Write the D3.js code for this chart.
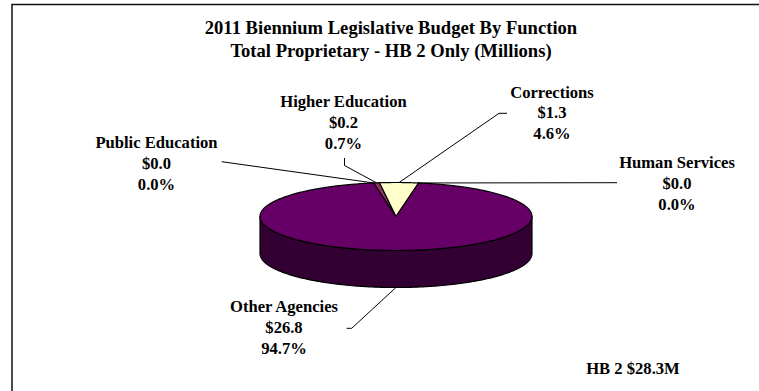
<!DOCTYPE html>
<html>
<head>
<meta charset="utf-8">
<script src="https://cdn.jsdelivr.net/npm/d3@7/dist/d3.min.js"></script>
<style>
  html, body { margin: 0; padding: 0; background: #fff; }
  svg { display: block; }
  text { font-family: "Liberation Serif", "Times New Roman", serif; font-weight: bold; fill: #000; }
</style>
</head>
<body>
<svg id="chart" width="759" height="391"></svg>
<script>
// Budget by function, HB 2 proprietary funds (millions of dollars)
const categories = ["Public Education", "Higher Education", "Corrections", "Human Services", "Other Agencies"];
const values = [0.0, 0.2, 1.3, 0.0, 26.8];
const titleLines = ["2011 Biennium Legislative Budget By Function", "Total Proprietary - HB 2 Only (Millions)"];
const totalLabel = "HB 2";

// Slice colours (top faces) and the darker side wall
const topColor = d3.scaleOrdinal(categories, ["#9999ff", "#993366", "#ffffcc", "#ccffff", "#660066"]);
const sideColor = d3.scaleOrdinal(categories, ["#4c4c80", "#4c1933", "#808066", "#668080", "#330033"]);

// Label placement: centre x, first baseline, and the outer leader points
const labelLayout = {
  "Public Education": { x: 156.5, y: 147.7, leader: [[221.7, 161.7]] },
  "Higher Education": { x: 343.5, y: 106.7, leader: [[344.5, 158], [344.5, 165.5]] },
  "Corrections":      { x: 552,   y: 97.5,  leader: [[507, 113.3], [499, 113.3]] },
  "Human Services":   { x: 677,   y: 168,   leader: [[617, 182.7]] },
  "Other Agencies":   { x: 284,   y: 312,   leader: [[346.7, 328.3], [351.7, 328.3]] }
};

const svg = d3.select("#chart");
const W = 759, H = 391;

// Frame (left and top edges visible)
svg.append("rect")
  .attr("x", 12).attr("y", 4.5)
  .attr("width", W + 20).attr("height", H + 20)
  .attr("fill", "none").attr("stroke", "#111").attr("stroke-width", 1.5);

// Title
svg.append("g").selectAll("text")
  .data(titleLines)
  .join("text")
  .attr("x", 391)
  .attr("y", (d, i) => 33.5 + i * 23)
  .attr("text-anchor", "middle")
  .attr("font-size", 18.6)
  .text(d => d);

// 3-D pie geometry
const cx = 396, cy = 216.5, rx = 136, ry = 34, depth = 37;
const total = d3.sum(values);
const start = -9.5 * Math.PI / 180;
const pie = d3.pie().sort(null).value(d => d.value)
  .startAngle(start).endAngle(start + 2 * Math.PI);
const arcs = pie(categories.map((c, i) => ({ name: c, value: values[i] })));

const pt = (a, dy = 0) => [cx + rx * Math.sin(a), cy - ry * Math.cos(a) + dy];
const sample = (a0, a1) => {
  const n = Math.max(2, Math.ceil(Math.abs(a1 - a0) / 0.01));
  return d3.range(n + 1).map(k => a0 + (a1 - a0) * k / n);
};
const closedLine = d3.line().curve(d3.curveLinearClosed);

const pieG = svg.append("g");

// Side walls: the front half of the rim (angles between pi/2 and 3pi/2)
arcs.forEach(a => {
  const a0 = Math.max(a.startAngle, Math.PI / 2);
  const a1 = Math.min(a.endAngle, 3 * Math.PI / 2);
  if (a1 <= a0) return;
  const angs = sample(a0, a1);
  const pts = angs.map(t => pt(t)).concat(angs.slice().reverse().map(t => pt(t, depth)));
  pieG.append("path")
    .attr("d", closedLine(pts))
    .attr("fill", sideColor(a.data.name))
    .attr("stroke", "#000").attr("stroke-width", 1.2)
    .attr("stroke-linejoin", "round");
});

// Top faces
pieG.selectAll("path.top")
  .data(arcs.filter(a => a.endAngle - a.startAngle > 0))
  .join("path")
  .attr("class", "top")
  .attr("d", a => closedLine([[cx, cy]].concat(sample(a.startAngle, a.endAngle).map(t => pt(t)))))
  .attr("fill", a => topColor(a.data.name))
  .attr("stroke", "#000").attr("stroke-width", 1.2)
  .attr("stroke-linejoin", "miter");

// Leader lines and labels
const fmt = d3.format(".1f");
const leaderLine = d3.line();
const labG = svg.append("g");
arcs.forEach(a => {
  const lay = labelLayout[a.data.name];
  const mid = (a.startAngle + a.endAngle) / 2;
  const end = Math.cos(mid) < 0 ? pt(mid, depth) : pt(mid);
  labG.append("path")
    .attr("d", leaderLine(lay.leader.concat([end])))
    .attr("fill", "none").attr("stroke", "#000").attr("stroke-width", 1);
  const lines = [a.data.name, "$" + fmt(a.data.value), fmt(a.data.value / total * 100) + "%"];
  labG.append("g").selectAll("text")
    .data(lines)
    .join("text")
    .attr("x", lay.x)
    .attr("y", (d, i) => lay.y + i * 20.9)
    .attr("text-anchor", "middle")
    .attr("font-size", 16.6)
    .text(d => d);
});

// Total
svg.append("text")
  .attr("x", 633).attr("y", 374)
  .attr("text-anchor", "middle")
  .attr("font-size", 16.6)
  .text(totalLabel + " $" + fmt(total) + "M");
</script>
</body>
</html>
